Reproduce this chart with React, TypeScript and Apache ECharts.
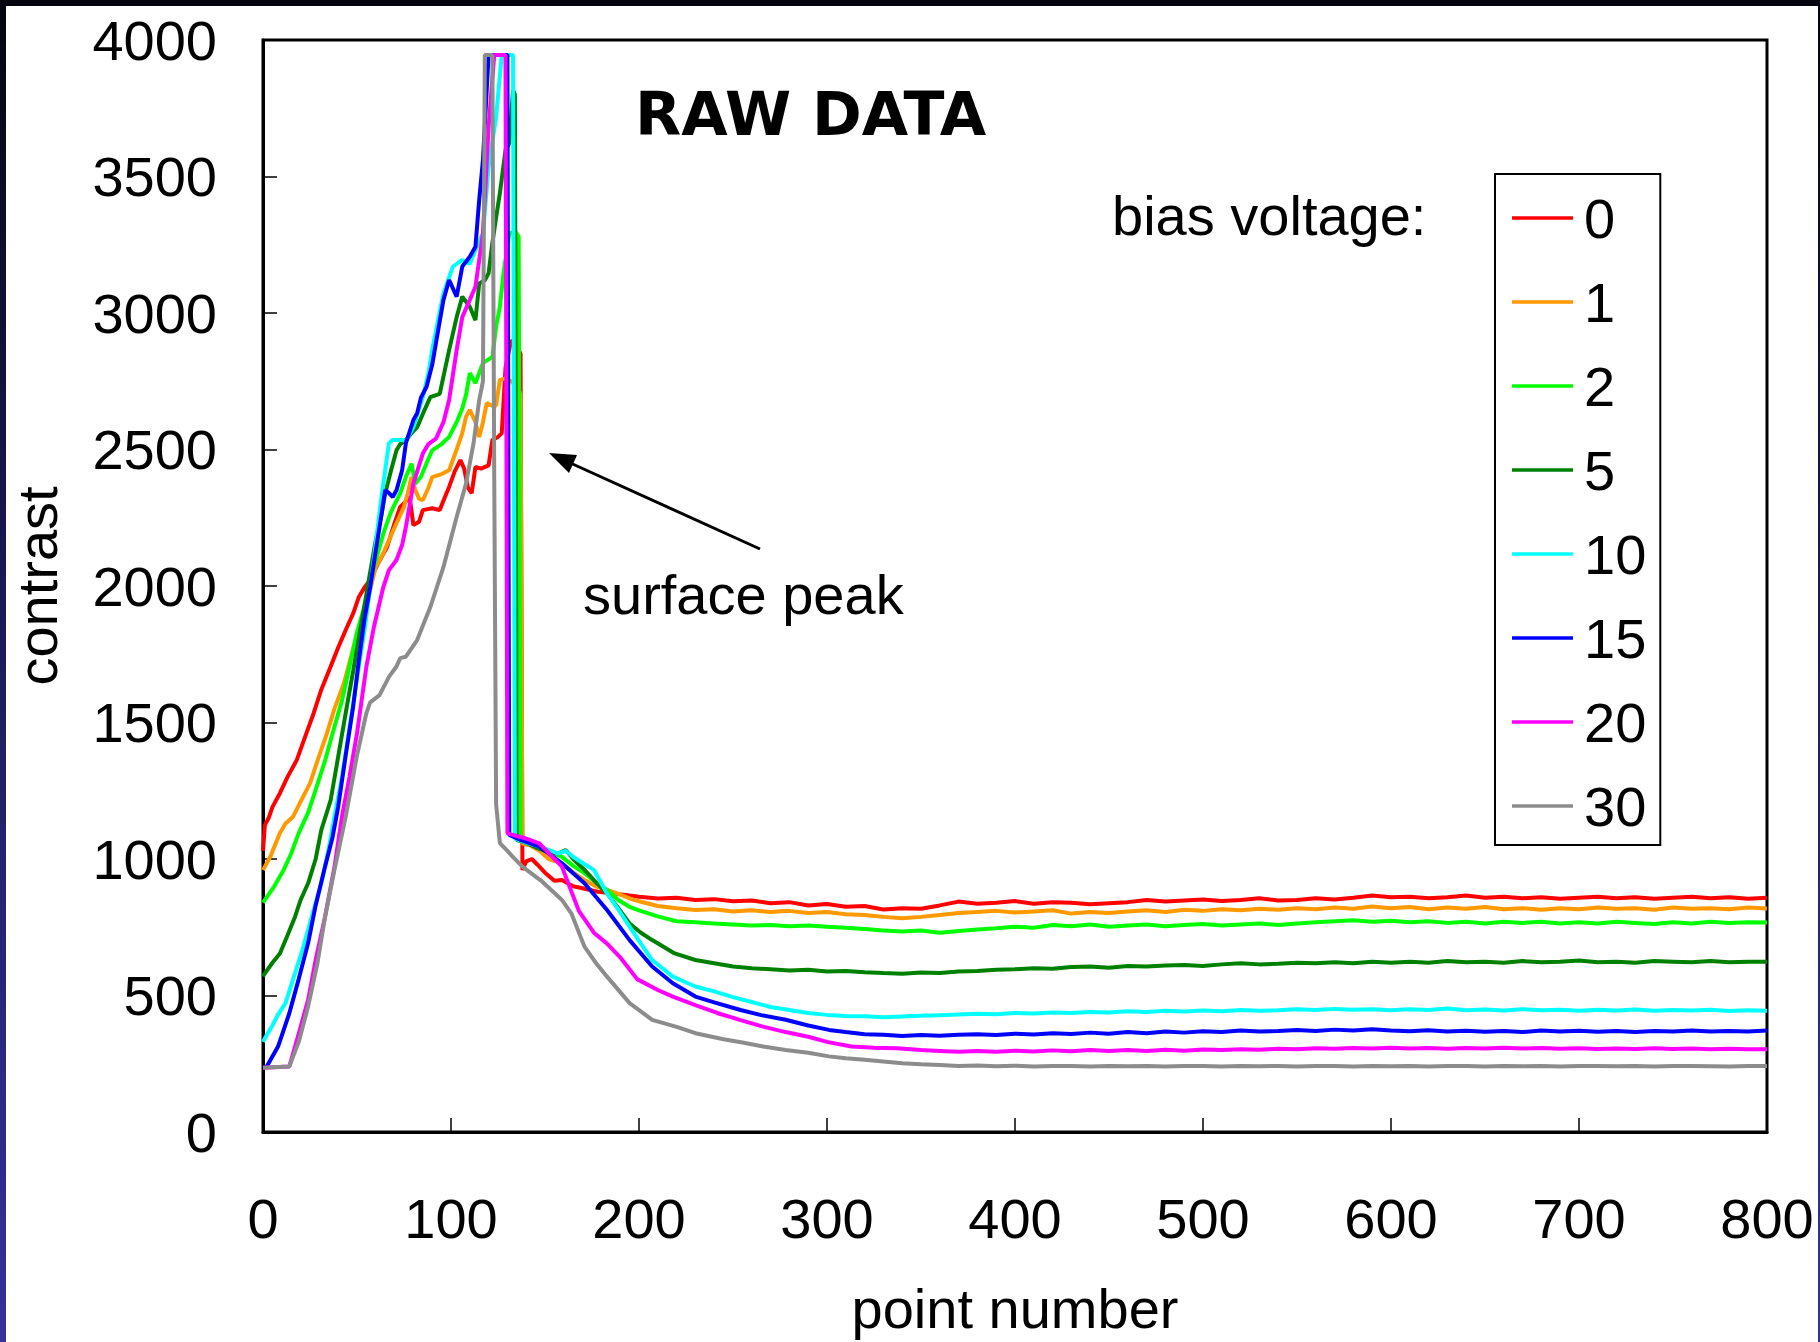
import React, { useEffect, useRef } from "react";
import * as echarts from "echarts";

// Contrast profiles (point number, contrast) for each bias voltage
const BIAS_LABELS = ["0", "1", "2", "5", "10", "15", "20", "30"];
const BIAS_COLORS = ["#ff0000", "#ff9900", "#00ff00", "#008000", "#00ffff", "#0000ff", "#ff00ff", "#8c8c8c"];

const BIAS_0 = [
  [0, 1030], [1, 1124], [3, 1150], [5, 1190], [9, 1241], [13, 1300], [18, 1363], [22, 1440], [27, 1535], [31, 1620],
  [36, 1705], [40, 1775], [44, 1839], [48, 1900], [51, 1960], [54, 1995], [57, 2022], [61, 2080], [66, 2143], [70, 2230],
  [73, 2290], [76, 2310], [78, 2326], [80, 2223], [83, 2235], [85, 2278], [90, 2285], [94, 2278], [97, 2330], [99, 2363],
  [102, 2420], [105, 2461], [107, 2430], [109, 2360], [111, 2340], [113, 2436], [116, 2430], [120, 2442], [122, 2535], [125, 2546],
  [127, 2560], [129, 2800], [132, 2900], [135, 2880], [137, 2850], [138, 960], [140, 991], [143, 1000], [146, 979], [150, 950],
  [155, 920], [159, 923], [165, 900], [170, 893], [178, 880], [185, 875], [195, 866],
  [200, 862], [210, 855], [220, 858], [230, 850], [240, 853], [250, 845], [260, 848], [270, 838], [280, 842], [290, 830],
  [300, 835], [310, 825], [320, 828], [330, 815], [340, 820], [350, 818], [360, 830], [370, 844], [380, 836], [390, 840],
  [400, 846], [410, 836], [420, 842], [430, 840], [440, 834], [450, 838], [460, 842], [470, 850], [480, 844], [490, 848],
  [500, 852], [510, 846], [520, 850], [530, 856], [540, 848], [550, 850], [560, 856], [570, 852], [580, 858], [590, 866],
  [600, 860], [610, 862], [620, 856], [630, 860], [640, 866], [650, 858], [660, 862], [670, 856], [680, 860], [690, 854],
  [700, 858], [710, 862], [720, 856], [730, 860], [740, 854], [750, 858], [760, 862], [770, 856], [780, 860], [790, 854],
  [800, 858],
];

const BIAS_1 = [
  [0, 960], [1, 972], [4, 1010], [9, 1095], [12, 1130], [16, 1155], [20, 1210], [25, 1277], [29, 1360], [34, 1460],
  [38, 1550], [43, 1643], [47, 1745], [51, 1850], [56, 1960], [60, 2070], [64, 2120], [67, 2168], [71, 2230], [75, 2290],
  [77, 2340], [79, 2399], [81, 2351], [83, 2320], [85, 2314], [88, 2360], [90, 2399], [95, 2410], [99, 2424], [103, 2500],
  [106, 2560], [108, 2620], [110, 2645], [113, 2600], [115, 2546], [117, 2600], [119, 2670], [122, 2660], [124, 2660], [126, 2755],
  [129, 2760], [132, 2750], [136, 2720], [137, 2700], [138, 1057], [142, 1050], [147, 1030], [152, 1000], [159, 984], [165, 950],
  [171, 923], [177, 900], [183, 887], [190, 870], [195, 856],
  [200, 845], [210, 828], [220, 820], [230, 813], [240, 816], [250, 808], [260, 812], [270, 806], [280, 810], [290, 802],
  [300, 806], [310, 798], [320, 795], [330, 788], [340, 783], [350, 788], [360, 795], [370, 802], [380, 806], [390, 810],
  [400, 804], [410, 808], [420, 812], [430, 800], [440, 806], [450, 802], [460, 808], [470, 812], [480, 806], [490, 814],
  [500, 810], [510, 816], [520, 812], [530, 818], [540, 814], [550, 820], [560, 816], [570, 822], [580, 818], [590, 826],
  [600, 820], [610, 824], [620, 816], [630, 822], [640, 818], [650, 824], [660, 816], [670, 820], [680, 814], [690, 820],
  [700, 816], [710, 822], [720, 818], [730, 820], [740, 814], [750, 822], [760, 818], [770, 820], [780, 816], [790, 822],
  [800, 819],
];

const BIAS_2 = [
  [0, 840], [1, 850], [6, 900], [11, 960], [15, 1020], [19, 1095], [24, 1170], [28, 1253], [33, 1360], [37, 1460],
  [42, 1580], [46, 1705], [50, 1830], [55, 1949], [59, 2070], [64, 2192], [68, 2270], [73, 2340], [76, 2400], [79, 2448],
  [81, 2375], [84, 2400], [87, 2450], [90, 2497], [95, 2520], [99, 2546], [103, 2600], [106, 2650], [108, 2700], [110, 2780],
  [113, 2743], [117, 2817], [120, 2830], [122, 2839], [124, 2950], [126, 3022], [128, 3150], [131, 3290], [134, 3300], [136, 3280],
  [137, 1069], [142, 1060], [148, 1040], [155, 1020], [159, 1008], [165, 975], [171, 948], [177, 915], [183, 887], [189, 850],
  [195, 825],
  [200, 812], [210, 790], [220, 772], [230, 768], [240, 764], [250, 760], [260, 756], [270, 758], [280, 754], [290, 756],
  [300, 752], [310, 748], [320, 744], [330, 738], [340, 734], [350, 738], [360, 730], [370, 736], [380, 742], [390, 746],
  [400, 752], [410, 748], [420, 758], [430, 754], [440, 760], [450, 752], [460, 756], [470, 760], [480, 754], [490, 758],
  [500, 762], [510, 756], [520, 760], [530, 764], [540, 758], [550, 764], [560, 768], [570, 772], [580, 776], [590, 770],
  [600, 774], [610, 768], [620, 772], [630, 766], [640, 770], [650, 764], [660, 770], [670, 766], [680, 770], [690, 764],
  [700, 768], [710, 764], [720, 770], [730, 766], [740, 762], [750, 768], [760, 764], [770, 770], [780, 766], [790, 768],
  [800, 767],
];

const BIAS_5 = [
  [0, 570], [1, 581], [5, 620], [9, 654], [13, 720], [17, 788], [20, 850], [24, 911], [28, 1000], [31, 1106],
  [36, 1216], [40, 1375], [44, 1535], [48, 1690], [51, 1810], [55, 1970], [58, 2090], [60, 2168], [63, 2260], [65, 2340],
  [68, 2420], [71, 2497], [73, 2520], [76, 2535], [79, 2560], [82, 2582], [85, 2630], [89, 2692], [94, 2704], [97, 2800],
  [99, 2864], [103, 2985], [106, 3060], [110, 3023], [113, 2974], [115, 3108], [118, 3120], [120, 3146], [122, 3256], [124, 3350],
  [126, 3439], [129, 3597], [131, 3622], [133, 3817], [134, 3800], [135, 1069], [140, 1060], [146, 1040], [152, 1025], [157, 1020],
  [161, 1033], [165, 1000], [171, 960], [177, 915], [183, 874], [189, 820], [195, 764],
  [201, 730], [207, 703], [219, 654], [230, 630], [240, 618], [250, 606], [260, 600], [270, 596], [280, 592], [290, 594],
  [300, 588], [310, 590], [320, 585], [330, 582], [340, 580], [350, 584], [360, 582], [370, 588], [380, 590], [390, 594],
  [400, 596], [410, 600], [420, 598], [430, 604], [440, 606], [450, 602], [460, 608], [470, 606], [480, 610], [490, 612],
  [500, 608], [510, 614], [520, 618], [530, 614], [540, 616], [550, 620], [560, 618], [570, 622], [580, 618], [590, 624],
  [600, 620], [610, 624], [620, 620], [630, 626], [640, 622], [650, 624], [660, 620], [670, 626], [680, 622], [690, 624],
  [700, 628], [710, 622], [720, 624], [730, 620], [740, 626], [750, 624], [760, 622], [770, 626], [780, 622], [790, 624],
  [800, 624],
];

const BIAS_10 = [
  [0, 330], [1, 343], [5, 390], [8, 430], [12, 472], [16, 560], [21, 667], [26, 790], [31, 911], [35, 1040],
  [38, 1155], [42, 1300], [46, 1480], [50, 1660], [54, 1840], [57, 1990], [60, 2157], [62, 2270], [64, 2375], [67, 2523],
  [69, 2535], [71, 2535], [74, 2535], [76, 2530], [80, 2582], [85, 2692], [88, 2780], [90, 2864], [93, 2970], [96, 3072],
  [101, 3170], [104, 3185], [106, 3194], [110, 3180], [113, 3231], [117, 3292], [120, 3536], [124, 3718], [127, 3945], [133, 3945],
  [134, 1075], [140, 1060], [147, 1045], [152, 1033], [157, 1020], [161, 1030], [165, 1008], [169, 990], [176, 960], [183, 874],
  [189, 815], [195, 752], [201, 690], [207, 630], [218, 569], [230, 533],
  [240, 515], [250, 494], [260, 476], [270, 458], [280, 447], [290, 436], [300, 429], [310, 425], [320, 424], [330, 420],
  [340, 423], [350, 426], [360, 428], [370, 430], [380, 433], [390, 431], [400, 436], [410, 434], [420, 438], [430, 436],
  [440, 440], [450, 438], [460, 442], [470, 440], [480, 444], [490, 441], [500, 445], [510, 442], [520, 447], [530, 444],
  [540, 446], [550, 450], [560, 447], [570, 451], [580, 448], [590, 450], [600, 446], [610, 450], [620, 447], [630, 452],
  [640, 446], [650, 449], [660, 445], [670, 450], [680, 446], [690, 448], [700, 444], [710, 448], [720, 445], [730, 449],
  [740, 444], [750, 447], [760, 445], [770, 448], [780, 443], [790, 446], [800, 444],
];

const BIAS_15 = [
  [0, 235], [2, 240], [8, 313], [14, 435], [19, 560], [24, 692], [28, 830], [33, 972], [37, 1080], [40, 1192],
  [44, 1380], [48, 1560], [51, 1729], [54, 1880], [57, 1996], [60, 2130], [62, 2216], [65, 2351], [67, 2340], [69, 2326],
  [71, 2351], [74, 2424], [76, 2523], [80, 2608], [82, 2633], [84, 2690], [87, 2730], [90, 2810], [92, 2890], [96, 3048],
  [99, 3121], [103, 3060], [106, 3170], [110, 3206], [113, 3243], [115, 3414], [117, 3561], [120, 3945], [130, 3945], [131, 1088],
  [137, 1070], [147, 1045], [159, 984], [171, 911], [183, 813], [195, 703], [207, 606], [218, 545], [230, 496],
  [240, 475], [254, 447], [265, 428], [278, 411], [290, 390], [301, 374], [310, 366], [320, 358], [330, 356], [340, 352],
  [350, 355], [360, 353], [370, 356], [380, 358], [390, 355], [400, 360], [410, 357], [420, 362], [430, 359], [440, 364],
  [450, 360], [460, 366], [470, 362], [480, 368], [490, 364], [500, 369], [510, 366], [520, 372], [530, 368], [540, 370],
  [550, 374], [560, 370], [570, 375], [580, 372], [590, 376], [600, 372], [610, 369], [620, 373], [630, 368], [640, 371],
  [650, 367], [660, 370], [670, 366], [680, 372], [690, 368], [700, 371], [710, 367], [720, 370], [730, 366], [740, 370],
  [750, 368], [760, 372], [770, 368], [780, 370], [790, 368], [800, 372],
];

const BIAS_20 = [
  [0, 235], [14, 240], [19, 360], [24, 484], [28, 630], [33, 788], [38, 970], [42, 1155], [46, 1300], [50, 1460],
  [55, 1705], [59, 1850], [64, 1996], [67, 2058], [71, 2095], [74, 2150], [76, 2216], [80, 2375], [85, 2485], [88, 2520],
  [92, 2540], [96, 2600], [99, 2681], [103, 2864], [106, 2985], [110, 3048], [113, 3096], [117, 3292], [120, 3681], [123, 3945],
  [129, 3945], [130, 1094], [140, 1075], [147, 1057], [159, 972], [168, 810], [176, 730], [183, 690], [190, 640], [199, 560],
  [210, 520], [218, 496], [230, 465], [242, 435], [254, 410], [266, 386], [278, 366], [290, 349], [300, 330], [313, 313], [325, 309], [337, 307],
  [350, 300], [360, 297], [370, 294], [380, 297], [390, 294], [400, 298], [410, 295], [420, 299], [430, 296], [440, 300],
  [450, 297], [460, 300], [470, 297], [480, 301], [490, 298], [500, 302], [510, 300], [520, 303], [530, 301], [540, 305],
  [550, 303], [560, 307], [570, 305], [580, 308], [590, 306], [600, 309], [610, 306], [620, 308], [630, 305], [640, 308],
  [650, 306], [660, 309], [670, 306], [680, 308], [690, 305], [700, 307], [710, 304], [720, 306], [730, 304], [740, 307],
  [750, 304], [760, 306], [770, 303], [780, 305], [790, 303], [800, 303],
];

const BIAS_30 = [
  [0, 235], [14, 240], [19, 330], [24, 460], [29, 620], [33, 788], [38, 960], [44, 1155], [50, 1380], [55, 1535],
  [57, 1574], [62, 1600], [67, 1667], [71, 1705], [73, 1736], [76, 1741], [82, 1802], [89, 1923], [96, 2070], [103, 2253],
  [108, 2375], [112, 2523], [115, 2681], [117, 2750], [118, 3945], [122, 3945], [123, 2400], [124, 1200], [126, 1058], [130, 1030],
  [133, 1007], [138, 972], [148, 920], [159, 850], [164, 801], [171, 679], [177, 620], [183, 569], [195, 472], [207, 411],
  [220, 385], [230, 362], [245, 340], [255, 328], [266, 313], [278, 300], [290, 290], [301, 277], [310, 270], [320, 265],
  [330, 258], [340, 252], [350, 248], [360, 245], [370, 242], [380, 244], [390, 241], [400, 243], [410, 240], [420, 242],
  [430, 242], [440, 240], [450, 242], [460, 241], [470, 242], [480, 240], [490, 242], [500, 242], [510, 240], [520, 242],
  [530, 241], [540, 242], [550, 240], [560, 242], [570, 242], [580, 240], [590, 242], [600, 241], [610, 242], [620, 240],
  [630, 242], [640, 242], [650, 240], [660, 242], [670, 241], [680, 242], [690, 240], [700, 242], [710, 242], [720, 241],
  [730, 242], [740, 240], [750, 242], [760, 242], [770, 241], [780, 240], [790, 242], [800, 242],
];

const BIAS_SERIES = [BIAS_0, BIAS_1, BIAS_2, BIAS_5, BIAS_10, BIAS_15, BIAS_20, BIAS_30];

const FONT = "'Liberation Sans', Arial, Helvetica, sans-serif";

export default function App() {
  const ref = useRef<HTMLDivElement>(null);

  useEffect(() => {
    document.body.style.margin = "0";
    document.body.style.overflow = "hidden";
    const chart = echarts.init(ref.current!, null, { renderer: "svg" });

    const edgeGradient = new echarts.graphic.LinearGradient(0, 0, 0, 1, [
      { offset: 0, color: "#05050f" },
      { offset: 0.45, color: "#1a1a58" },
      { offset: 1, color: "#333399" },
    ]);

    chart.setOption({
      animation: false,
      backgroundColor: "#ffffff",
      grid: {
        left: 263,
        top: 40,
        width: 1504,
        height: 1092,
        show: true,
        borderColor: "#000",
        borderWidth: 3,
        backgroundColor: "transparent",
      },
      xAxis: {
        type: "value",
        min: 0,
        max: 800,
        interval: 100,
        name: "point number",
        nameLocation: "middle",
        nameGap: 148,
        nameTextStyle: { fontFamily: FONT, fontSize: 56, color: "#000" },
        axisLine: { show: true, lineStyle: { color: "#000", width: 3 } },
        axisTick: { show: true, inside: true, length: 14, lineStyle: { color: "#000", width: 1.5 } },
        axisLabel: { fontFamily: FONT, fontSize: 56, color: "#000", margin: 58, formatter: (v: number) => String(v) },
        splitLine: { show: false },
      },
      yAxis: {
        type: "value",
        min: 0,
        max: 4000,
        interval: 500,
        name: "contrast",
        nameLocation: "middle",
        nameGap: 198,
        nameTextStyle: { fontFamily: FONT, fontSize: 56, color: "#000" },
        axisLine: { show: true, lineStyle: { color: "#000", width: 3 } },
        axisTick: { show: true, inside: true, length: 14, lineStyle: { color: "#000", width: 1.5 } },
        axisLabel: { fontFamily: FONT, fontSize: 56, color: "#000", margin: 46, formatter: (v: number) => String(v) },
        splitLine: { show: false },
      },
      legend: {
        orient: "vertical",
        left: 1495,
        top: 174,
        padding: [14, 14, 9, 17],
        icon: "rect",
        itemWidth: 61,
        itemHeight: 3.5,
        itemGap: 24,
        backgroundColor: "#fff",
        borderColor: "#000",
        borderWidth: 2,
        borderRadius: 0,
        selectedMode: false,
        textStyle: { fontFamily: FONT, fontSize: 56, color: "#000", lineHeight: 60, padding: [0, 0, 0, 6] },
        data: BIAS_LABELS,
      },
      series: BIAS_SERIES.map((points, i) => ({
        name: BIAS_LABELS[i],
        type: "line",
        data: points,
        symbol: "none",
        showSymbol: false,
        lineStyle: { color: BIAS_COLORS[i], width: 4 },
        itemStyle: { color: BIAS_COLORS[i] },
        z: 2 + i,
      })),
      graphic: [
        { type: "rect", shape: { x: 0, y: 0, width: 1820, height: 6 }, style: { fill: "#05050f" }, z: 100 },
        { type: "rect", shape: { x: 0, y: 0, width: 6, height: 1342 }, style: { fill: edgeGradient }, z: 100 },
        { type: "rect", shape: { x: 1818, y: 0, width: 2, height: 1342 }, style: { fill: edgeGradient }, z: 100 },
        {
          type: "text",
          x: 635,
          y: 114,
          style: {
            text: "RAW DATA",
            fontFamily: "'DejaVu Sans', sans-serif",
            fontWeight: "bold",
            fontSize: 60,
            fill: "#000",
            align: "left",
            verticalAlign: "middle",
          },
          z: 100,
        },
        {
          type: "text",
          x: 1112,
          y: 215,
          style: {
            text: "bias voltage:",
            fontFamily: FONT,
            fontSize: 56,
            fill: "#000",
            align: "left",
            verticalAlign: "middle",
          },
          z: 100,
        },
        {
          type: "text",
          x: 583,
          y: 594,
          style: {
            text: "surface peak",
            fontFamily: FONT,
            fontSize: 56,
            fill: "#000",
            align: "left",
            verticalAlign: "middle",
          },
          z: 100,
        },
        {
          type: "line",
          shape: { x1: 760, y1: 549, x2: 566, y2: 461 },
          style: { stroke: "#000", lineWidth: 3 },
          z: 100,
        },
        {
          type: "polygon",
          shape: { points: [[549, 453], [577, 455], [569, 473]] },
          style: { fill: "#000" },
          z: 100,
        },
      ],
    });

    return () => chart.dispose();
  }, []);

  return (
    <div
      ref={ref}
      style={{ position: "absolute", left: 0, top: 0, width: 1820, height: 1342, background: "#fff" }}
    />
  );
}
